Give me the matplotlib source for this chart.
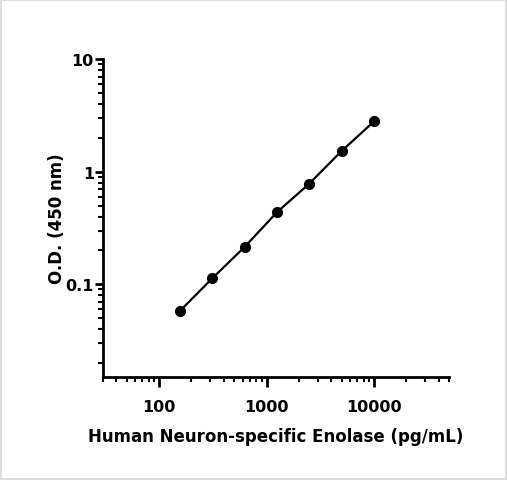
import matplotlib
matplotlib.use("Agg")
import matplotlib.pyplot as plt
from matplotlib.ticker import LogLocator, FixedLocator, NullFormatter, FixedFormatter

# data
conc = [156.25, 312.5, 625, 1250, 2500, 5000, 10000]
od = [0.058, 0.113, 0.215, 0.437, 0.785, 1.53, 2.8]

xticks = [100, 1000, 10000]
xtick_labels = ['100', '1000', '10000']
yticks = [0.1, 1, 10]
ytick_labels = ['0.1', '1', '10']

plt.rcParams['font.family'] = ['DejaVu Sans']
plt.rcParams['font.weight'] = 'bold'

fig = plt.figure(figsize=(5.07, 4.81), dpi=100)
fig.patch.set_edgecolor('#dddddd')
fig.patch.set_linewidth(1.5)
ax = fig.add_axes([0.203, 0.214, 0.683, 0.661])

ax.plot(conc, od, color='black', lw=1.6, marker='o', markersize=7, zorder=3)

ax.set_xscale('log')
ax.set_yscale('log')
ax.set_xlim(30, 50000)
ax.set_ylim(0.015, 10)

ax.xaxis.set_major_locator(FixedLocator(xticks))
ax.xaxis.set_major_formatter(FixedFormatter(xtick_labels))
ax.yaxis.set_major_locator(FixedLocator(yticks))
ax.yaxis.set_major_formatter(FixedFormatter(ytick_labels))
ax.xaxis.set_minor_locator(LogLocator(base=10, subs=range(2, 10), numticks=20))
ax.yaxis.set_minor_locator(LogLocator(base=10, subs=range(2, 10), numticks=20))
ax.xaxis.set_minor_formatter(NullFormatter())
ax.yaxis.set_minor_formatter(NullFormatter())

for s in ['top', 'right']:
    ax.spines[s].set_visible(False)
for s in ['left', 'bottom']:
    ax.spines[s].set_linewidth(2)

ax.tick_params(which='major', length=6, width=2, labelsize=11.5, direction='out')
ax.tick_params(which='minor', length=3.5, width=1.5, direction='out')
ax.tick_params(axis='x', which='major', length=7, pad=9)
ax.tick_params(axis='y', which='major', pad=0.5)

ax.set_xlabel('Human Neuron-specific Enolase (pg/mL)', fontsize=12, fontweight='bold', labelpad=9)
ax.set_ylabel('O.D. (450 nm)', fontsize=12, fontweight='bold', labelpad=0)

fig.savefig('out.png', dpi=100)
